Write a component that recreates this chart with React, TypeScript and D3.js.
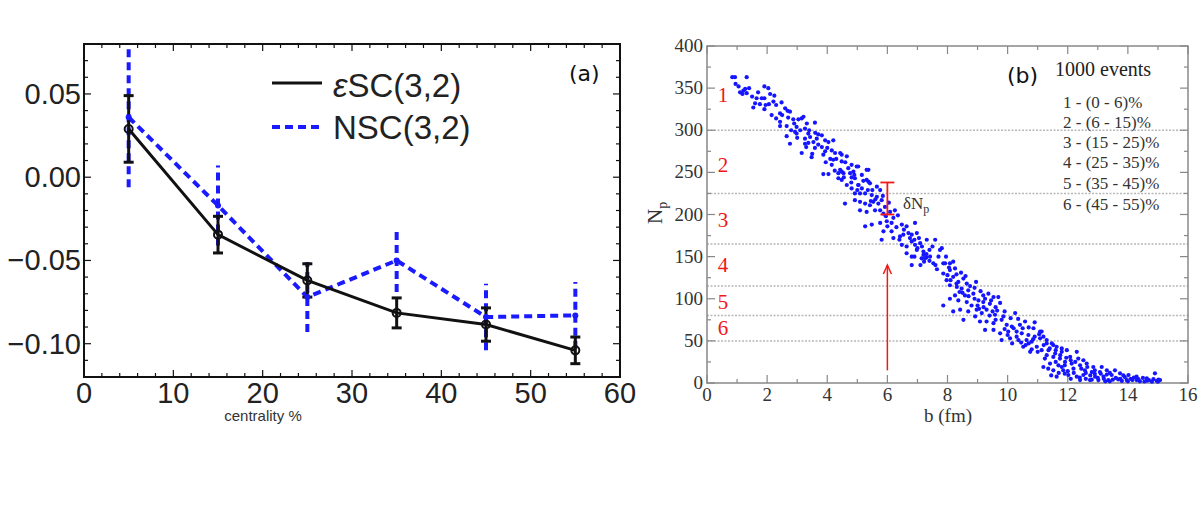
import React from 'react';
import { scaleLinear, line, range } from 'd3';

// panel (a): correlations vs centrality
const centrality = [5, 15, 25, 35, 45, 55];
const escValues = [0.029, -0.0345, -0.062, -0.0815, -0.0885, -0.104];
const escErrors = [0.02, 0.011, 0.01, 0.009, 0.01, 0.008];
const nscValues = [0.036, -0.017, -0.072, -0.05, -0.084, -0.083];
const nscErrors = [0.042, 0.024, 0.021, 0.019, 0.02, 0.02];
const aTicksX = [0, 10, 20, 30, 40, 50, 60];
const aTicksY = [0.05, 0, -0.05, -0.1];

// panel (b): Np vs impact parameter
const bTicksX = [0, 2, 4, 6, 8, 10, 12, 14, 16];
const bTicksY = [0, 50, 100, 150, 200, 250, 300, 350, 400];
const classCuts = [300, 225, 165, 115, 80, 50];
const classNumbers = ['1', '2', '3', '4', '5', '6'];
const classNumberNp = [342, 259, 193, 140, 96, 65];
const classRanges = [
  '1 - (0 - 6)%',
  '2 - (6 - 15)%',
  '3 - (15 - 25)%',
  '4 - (25 - 35)%',
  '5 - (35 - 45)%',
  '6 - (45 - 55)%',
];
const deltaBar = { b: 6, low: 200, high: 238 };
const arrowSpan = { b: 6, from: 15, to: 140 };

const scatterPoints: [number, number][] = [
  [0.84, 363], [0.93, 363], [1.32, 363], [0.95, 355], [1.1, 345], [1.21, 347], [1.27, 349], [1.32, 344],
  [1.18, 343], [1.91, 352], [2.04, 350], [1.65, 338], [1.82, 338], [1.91, 338], [2.24, 341], [1.76, 331],
  [1.54, 327], [2.06, 331], [2.21, 334], [2.48, 333], [1.91, 325], [2.6, 326], [2.68, 323], [2.76, 322],
  [2.15, 318], [2.43, 320], [2.43, 310], [3.04, 313], [3.15, 314], [3.21, 316], [2.87, 313], [3.32, 308],
  [3.59, 309], [2.43, 305], [2.65, 305], [2.98, 304], [3.26, 302], [2.93, 298], [2.98, 296], [2.65, 293],
  [3.37, 296], [3.43, 292], [3.26, 290], [3.7, 295], [3.82, 294], [3.65, 290], [3.54, 286], [3.37, 285],
  [3.93, 288], [4.04, 286], [4.2, 288], [2.76, 284], [3.26, 284], [3.59, 279], [3.82, 280], [3.93, 275],
  [4.15, 276], [3.15, 273], [3.48, 268], [3.87, 271], [4.26, 273], [4.43, 273], [4.65, 269], [4.2, 265],
  [4.48, 263], [4.15, 259], [4.81, 259], [5.03, 257], [4.43, 253], [3.87, 248], [4.04, 248], [4.37, 249],
  [4.54, 249], [4.87, 251], [5.37, 253], [4.37, 243], [4.48, 241], [4.81, 244], [5.31, 241], [5.42, 237],
  [4.65, 235], [5.03, 235], [4.48, 271], [4.98, 257], [4.48, 251], [4.76, 249], [4.92, 243], [5.31, 253],
  [5.37, 239], [4.81, 231], [5.04, 235], [5.15, 231], [5.65, 233], [5.76, 229], [4.92, 225], [5.09, 225],
  [5.26, 225], [5.48, 223], [5.65, 221], [5.81, 217], [4.59, 213], [4.92, 217], [5.09, 215], [5.26, 213],
  [5.42, 211], [5.53, 215], [5.7, 213], [5.92, 209], [6.25, 205], [5.09, 205], [5.31, 203], [5.59, 205],
  [5.76, 205], [5.87, 201], [6.09, 203], [5.26, 186], [5.48, 188], [5.76, 190], [5.98, 192], [6.14, 190],
  [6.48, 188], [6.64, 186], [6.92, 190], [5.87, 180], [6.14, 180], [6.2, 172], [5.81, 170], [6.42, 174],
  [6.53, 176], [6.81, 176], [6.98, 178], [6.48, 164], [6.64, 162], [6.81, 168], [6.92, 164], [7.09, 166],
  [7.31, 170], [7.59, 170], [6.64, 154], [6.81, 150], [6.98, 158], [7.2, 156], [7.25, 148], [7.42, 150],
  [7.75, 158], [7.53, 142], [7.86, 142], [8.08, 142], [6.81, 140], [7.81, 160], [7.92, 142], [8.19, 144],
  [7.86, 130], [8.08, 134], [8.25, 136], [7.97, 122], [8.19, 126], [8.36, 120], [8.53, 124], [8.08, 116],
  [8.31, 114], [8.47, 112], [8.64, 118], [8.69, 110], [8.25, 104], [8.58, 104], [8.86, 106], [9.19, 104],
  [9.36, 106], [9.53, 102], [9.69, 102], [8.08, 100], [8.36, 98], [8.64, 96], [8.8, 92], [9.03, 98],
  [9.19, 96], [9.41, 94], [7.86, 92], [8.19, 85], [8.42, 87], [8.69, 85], [8.97, 87], [9.14, 83],
  [9.3, 87], [9.58, 81], [9.86, 79], [10.25, 83], [8.53, 75], [8.92, 79], [9.08, 73], [9.3, 73],
  [9.53, 71], [9.8, 75], [9.97, 69], [10.14, 67], [10.41, 69], [10.58, 73], [10.86, 65], [9.25, 63],
  [9.53, 63], [9.75, 59], [10.02, 61], [10.3, 61], [10.47, 59], [10.69, 57], [11.08, 61], [9.8, 51],
  [10.08, 53], [10.36, 51], [10.63, 51], [10.8, 49], [11.08, 53], [11.3, 51], [11.52, 45], [11.8, 41],
  [10.52, 43], [10.97, 43], [11.13, 61], [11.19, 55], [11.3, 47], [11.47, 47], [11.63, 43], [11.13, 39],
  [11.36, 39], [11.58, 35], [11.8, 37], [11.97, 39], [12.3, 37], [11.24, 29], [11.52, 31], [11.74, 29],
  [12.08, 31], [12.35, 29], [12.52, 27], [11.41, 23], [11.69, 21], [11.91, 25], [12.13, 23], [12.41, 21],
  [12.63, 23], [12.85, 19], [13.13, 19], [11.19, 19], [11.52, 15], [11.85, 15], [12.19, 17], [12.57, 15],
  [12.8, 13], [13.07, 13], [13.3, 15], [13.57, 15], [11.63, 7.5], [12.02, 9.5], [12.3, 7.5], [12.52, 9.5],
  [12.91, 7.5], [13.19, 7.5], [13.46, 9.5], [13.74, 11.5], [14.02, 9.5], [14.29, 7.5], [14.63, 5.5], [14.9, 11.5],
  [12.41, 3.5], [12.74, 3.5], [13.02, 3.5], [13.35, 3.5], [13.68, 4.3], [13.96, 3.5], [14.29, 3.5], [14.63, 2.7],
  [14.96, 2.7], [15.07, 3.5], [13.2, 5], [13.4, 2], [13.6, 6], [13.8, 2.5], [14.1, 5], [14.4, 2],
  [14.5, 6], [14.7, 3.5], [14.8, 1.5], [15.0, 1.5], [13.9, 7], [13.3, 10], [12.9, 11], [12.6, 12],
  [12.2, 12], [12.0, 14], [11.8, 19], [11.9, 21], [11.6, 25], [11.3, 33], [11.0, 37], [10.8, 40],
  [10.6, 45], [10.9, 55], [10.7, 47], [10.3, 55], [10.2, 65], [10.0, 57], [9.9, 64], [9.6, 75],
  [9.4, 80], [9.2, 90], [9.0, 92], [8.9, 100], [8.7, 103], [8.5, 107], [8.3, 118], [8.1, 122],
  [8.0, 128], [7.6, 140], [7.4, 145], [7.3, 153], [7.14, 148], [7.22, 144], [7.3, 149], [7.2, 152],
  [1.05, 352], [1.4, 350], [1.5, 340], [1.7, 345], [1.95, 330], [1.6, 332], [2.1, 343], [2.3, 330],
  [2.5, 318], [2.3, 314], [2.7, 315], [2.9, 308], [3.1, 300], [2.8, 300], [3.0, 291], [3.4, 300],
  [3.6, 297], [3.3, 280], [3.7, 283], [3.5, 272], [4.0, 279], [4.1, 266], [3.95, 262], [4.3, 266],
  [4.6, 262], [4.7, 255], [4.25, 252], [4.55, 244], [4.9, 247], [5.15, 247], [5.2, 240], [4.8, 238],
  [5.0, 229], [5.35, 229], [5.5, 229], [5.6, 218], [5.45, 216], [5.85, 222], [6.05, 214], [5.95, 198],
  [6.2, 196], [6.35, 199], [6.0, 186], [6.3, 185], [6.55, 182], [6.7, 178], [6.4, 170], [6.75, 172],
  [6.9, 170], [7.05, 172], [7.0, 160], [7.15, 162], [6.9, 150], [7.1, 140], [7.4, 158], [7.5, 162],
  [7.7, 150], [7.65, 135], [7.95, 150], [8.05, 137], [8.3, 129], [8.45, 131], [8.6, 127], [8.4, 108],
  [8.75, 115], [8.9, 113], [8.95, 120], [9.1, 109], [9.25, 100], [9.05, 88], [9.45, 98], [9.6, 90],
  [9.75, 95], [9.5, 85], [9.65, 86], [9.9, 85], [10.1, 77], [10.35, 76], [10.5, 65], [10.7, 66],
  [10.9, 72], [11.05, 58], [10.15, 47], [10.45, 48], [10.75, 37], [10.85, 52], [11.2, 45], [11.4, 41],
  [11.6, 39], [11.75, 33], [11.95, 30], [12.1, 27], [12.25, 25], [11.35, 17], [11.7, 12], [12.45, 17],
  [12.65, 19], [12.9, 15], [13.1, 11], [12.1, 5], [12.4, 6.5], [12.6, 5], [12.8, 4], [13.0, 6],
  [13.25, 2], [13.5, 4], [13.75, 5], [14.0, 2], [14.15, 3.5], [14.35, 4.5], [14.55, 1.8], [14.85, 4.5],
  [15.02, 4], [13.4, 12], [13.85, 9], [14.2, 6.5], [12.75, 9], [11.9, 11], [11.45, 9],
];

const sans = '"Liberation Sans", Arial, Helvetica, sans-serif';
const serif = '"Liberation Serif", "Times New Roman", serif';

function PanelA() {
  const x = scaleLinear().domain([0, 60]).range([84, 620]);
  const y = scaleLinear().domain([-0.12, 0.08]).range([377, 44]);
  const [x0, x1] = x.range();
  const [yb, yt] = y.range();

  const path = line<number>()
    .x((_, i) => x(centrality[i]))
    .y((d) => y(d));

  const minorX = range(0, 61, 2);
  const minorY = range(-0.12, 0.0801, 0.01);

  return (
    <g>
      <defs>
        <clipPath id="clipA">
          <rect x={x0} y={yt} width={x1 - x0} height={yb - yt} />
        </clipPath>
      </defs>
      {minorX.map((v) => {
        const len = v % 10 === 0 ? 7 : 4;
        return (
          <g key={`ax-${v}`} stroke="#111" strokeWidth={1.2}>
            <line x1={x(v)} x2={x(v)} y1={yb} y2={yb - len} />
            <line x1={x(v)} x2={x(v)} y1={yt} y2={yt + len} />
          </g>
        );
      })}
      {minorY.map((v, i) => {
        const len = Math.abs(Math.round(v * 100)) % 5 === 0 ? 7 : 4;
        return (
          <g key={`ay-${i}`} stroke="#111" strokeWidth={1.2}>
            <line x1={x0} x2={x0 + len} y1={y(v)} y2={y(v)} />
            <line x1={x1} x2={x1 - len} y1={y(v)} y2={y(v)} />
          </g>
        );
      })}
      <rect x={x0} y={yt} width={x1 - x0} height={yb - yt} fill="none" stroke="#111" strokeWidth={2} />

      {aTicksX.map((v) => (
        <text key={`axl-${v}`} x={x(v)} y={403} textAnchor="middle" fontFamily={sans} fontSize={29} fill="#222">
          {v}
        </text>
      ))}
      {aTicksY.map((v) => (
        <text key={`ayl-${v}`} x={81} y={y(v) + 10} textAnchor="end" fontFamily={sans} fontSize={29} fill="#222">
          {v < 0 ? '\u2212' + Math.abs(v).toFixed(2) : v.toFixed(2)}
        </text>
      ))}
      <text x={263} y={421} textAnchor="middle" fontFamily={sans} fontSize={15} fill="#333">
        centrality %
      </text>

      <g clipPath="url(#clipA)">
        {/* NSC dashed blue */}
        {centrality.map((c, i) => (
          <line
            key={`nerr-${c}`}
            x1={x(c)}
            x2={x(c)}
            y1={y(nscValues[i] - nscErrors[i])}
            y2={y(nscValues[i] + nscErrors[i])}
            stroke="#1a1aff"
            strokeWidth={4}
            strokeDasharray="8 5"
          />
        ))}
        <path d={path(nscValues) ?? ''} fill="none" stroke="#1a1aff" strokeWidth={4} strokeDasharray="8 5" />

        {/* eSC solid black */}
        <path d={path(escValues) ?? ''} fill="none" stroke="#111" strokeWidth={3} />
        {centrality.map((c, i) => {
          const top = y(escValues[i] + escErrors[i]);
          const bot = y(escValues[i] - escErrors[i]);
          return (
            <g key={`eerr-${c}`} stroke="#111" strokeWidth={3}>
              <line x1={x(c)} x2={x(c)} y1={top} y2={bot} />
              <line x1={x(c) - 5} x2={x(c) + 5} y1={top} y2={top} />
              <line x1={x(c) - 5} x2={x(c) + 5} y1={bot} y2={bot} />
            </g>
          );
        })}
        {centrality.map((c, i) => (
          <circle key={`em-${c}`} cx={x(c)} cy={y(escValues[i])} r={4} fill="none" stroke="#111" strokeWidth={2} />
        ))}
        {centrality.map((c, i) => (
          <circle key={`nm-${c}`} cx={x(c)} cy={y(nscValues[i])} r={3} fill="#1a1aff" />
        ))}
      </g>

      {/* legend */}
      <line x1={272} x2={322} y1={83} y2={83} stroke="#111" strokeWidth={3} />
      <text x={333} y={97} fontFamily={sans} fontSize={33} fill="#222">
        <tspan fontStyle="italic">ε</tspan>SC(3,2)
      </text>
      <line x1={272} x2={322} y1={127} y2={127} stroke="#1a1aff" strokeWidth={4} strokeDasharray="8 5" />
      <text x={333} y={139} fontFamily={sans} fontSize={33} fill="#222">
        NSC(3,2)
      </text>
      <text x={569} y={81} fontFamily='"DejaVu Sans", sans-serif' fontSize={22} fill="#111">
        (a)
      </text>
    </g>
  );
}

function PanelB() {
  const x = scaleLinear().domain([0, 16]).range([707, 1188]);
  const y = scaleLinear().domain([0, 400]).range([383, 46]);
  const [x0, x1] = x.range();
  const [yb, yt] = y.range();
  const frame = '#888';

  const tickX = range(0, 17, 1);
  const tickY = range(0, 401, 25);
  const red = '#f01818';

  const tip = y(arrowSpan.to);
  const ax = x(arrowSpan.b);

  return (
    <g>
      {classCuts.map((v) => (
        <line
          key={`cut-${v}`}
          x1={x0}
          x2={x1}
          y1={y(v)}
          y2={y(v)}
          stroke="#b8b8b8"
          strokeWidth={1.5}
          strokeDasharray="2 1.5"
        />
      ))}
      {tickX.map((v) => {
        const len = v % 2 === 0 ? 8 : 4;
        return (
          <g key={`bx-${v}`} stroke={frame} strokeWidth={1.2}>
            <line x1={x(v)} x2={x(v)} y1={yb} y2={yb - len} />
            <line x1={x(v)} x2={x(v)} y1={yt} y2={yt + len} />
          </g>
        );
      })}
      {tickY.map((v) => {
        const len = v % 50 === 0 ? 8 : 4;
        return (
          <g key={`by-${v}`} stroke={frame} strokeWidth={1.2}>
            <line x1={x0} x2={x0 + len} y1={y(v)} y2={y(v)} />
            <line x1={x1} x2={x1 - len} y1={y(v)} y2={y(v)} />
          </g>
        );
      })}
      <rect x={x0} y={yt} width={x1 - x0} height={yb - yt} fill="none" stroke={frame} strokeWidth={1.5} />

      {bTicksX.map((v) => (
        <text key={`bxl-${v}`} x={x(v)} y={401} textAnchor="middle" fontFamily={serif} fontSize={19} fill="#333">
          {v}
        </text>
      ))}
      {bTicksY.map((v) => (
        <text key={`byl-${v}`} x={703} y={y(v) + 6} textAnchor="end" fontFamily={serif} fontSize={19} fill="#333">
          {v}
        </text>
      ))}
      <text x={948} y={422} textAnchor="middle" fontFamily={serif} fontSize={19} fill="#333">
        b (fm)
      </text>
      <text transform="translate(662,224) rotate(-90)" fontFamily={serif} fontSize={21} fill="#333">
        N
        <tspan fontSize={14} dy={5}>
          p
        </tspan>
      </text>

      {scatterPoints.map(([b, np], i) => (
        <circle key={`pt-${i}`} cx={x(b)} cy={y(np)} r={2.1} fill="#1515ff" />
      ))}

      {classNumbers.map((s, i) => (
        <text
          key={`cn-${s}`}
          x={723}
          y={y(classNumberNp[i]) + 7}
          textAnchor="middle"
          fontFamily={serif}
          fontSize={21}
          fill={red}
        >
          {s}
        </text>
      ))}

      {/* delta Np bar */}
      <g stroke={red} strokeWidth={1.8}>
        <line x1={x(deltaBar.b)} x2={x(deltaBar.b)} y1={y(deltaBar.low)} y2={y(deltaBar.high)} />
        <line x1={x(deltaBar.b) - 7} x2={x(deltaBar.b) + 7} y1={y(deltaBar.low)} y2={y(deltaBar.low)} />
        <line x1={x(deltaBar.b) - 7} x2={x(deltaBar.b) + 7} y1={y(deltaBar.high)} y2={y(deltaBar.high)} />
      </g>
      <text x={903} y={209} fontFamily={serif} fontSize={17} fill="#333">
        δN
        <tspan fontSize={12} dy={4}>
          p
        </tspan>
      </text>

      {/* arrow */}
      <g stroke={red} strokeWidth={1.5} fill="none">
        <line x1={ax} x2={ax} y1={y(arrowSpan.from)} y2={tip} />
        <path d={`M${ax - 4},${tip + 9} L${ax},${tip} L${ax + 4},${tip + 9}`} />
      </g>

      <text x={1007} y={83} fontFamily='"DejaVu Sans", sans-serif' fontSize={22} fill="#111">
        (b)
      </text>
      <text x={1055} y={76} fontFamily={serif} fontSize={20} fill="#222">
        1000 events
      </text>
      {classRanges.map((s, i) => (
        <text key={`cr-${i}`} x={1063} y={[108, 128, 148, 168, 189, 210][i]} fontFamily={serif} fontSize={17} fill="#333">
          {s}
        </text>
      ))}
    </g>
  );
}

export default function App() {
  return (
    <svg
      width={1200}
      height={525}
      style={{ position: 'absolute', left: 0, top: 0, background: '#fff' }}
    >
      <rect width={1200} height={525} fill="#fff" />
      <PanelA />
      <PanelB />
    </svg>
  );
}
